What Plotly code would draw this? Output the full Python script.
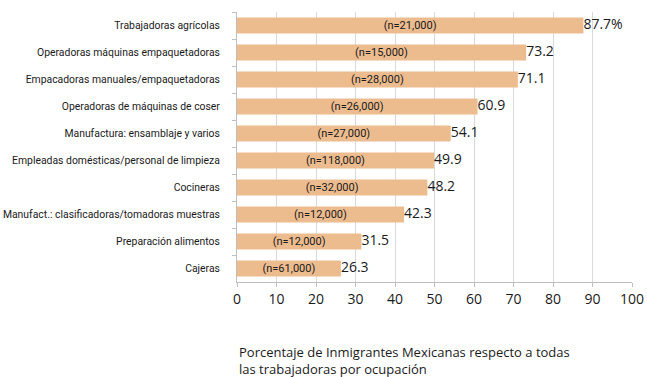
import plotly.graph_objects as go

categories = [
    "Trabajadoras agrícolas",
    "Operadoras máquinas empaquetadoras",
    "Empacadoras manuales/empaquetadoras",
    "Operadoras de máquinas de coser",
    "Manufactura: ensamblaje y varios",
    "Empleadas domésticas/personal de limpieza",
    "Cocineras",
    "Manufact.: clasificadoras/tomadoras muestras",
    "Preparación alimentos",
    "Cajeras",
]
values = [87.7, 73.2, 71.1, 60.9, 54.1, 49.9, 48.2, 42.3, 31.5, 26.3]
value_labels = ["87.7%", "73.2", "71.1", "60.9", "54.1", "49.9", "48.2", "42.3", "31.5", "26.3"]
n_labels = ["(n=21,000)", "(n=15,000)", "(n=28,000)", "(n=26,000)", "(n=27,000)",
            "(n=118,000)", "(n=32,000)", "(n=12,000)", "(n=12,000)", "(n=61,000)"]
x_ticks = [0, 10, 20, 30, 40, 50, 60, 70, 80, 90, 100]

narrow = "Roboto, Liberation Sans, sans-serif"
regular = "Open Sans, Liberation Sans, sans-serif"

fig = go.Figure()
fig.add_trace(go.Bar(
    y=categories, x=values, orientation="h",
    marker=dict(color="#ECBC8F", line=dict(width=0)),
    width=0.6,
    text=n_labels, textposition="inside", insidetextanchor="middle",
    constraintext="none",
    textfont=dict(family=narrow, size=11, color="#1a1a1a"),
    textangle=0, cliponaxis=False, hoverinfo="skip",
))
fig.add_trace(go.Scatter(
    y=categories, x=values, mode="text",
    text=value_labels, textposition="middle right",
    textfont=dict(family=regular, size=14, color="#1a1a1a"),
    cliponaxis=False, hoverinfo="skip", showlegend=False,
))

fig.update_layout(
    width=647, height=377,
    margin=dict(l=237, r=15, t=12, b=95),
    plot_bgcolor="white", paper_bgcolor="white",
    showlegend=False,
    xaxis=dict(
        range=[0, 100], tickvals=x_ticks, ticks="outside", ticklen=4,
        tickcolor="#BFBFBF", showgrid=True, gridcolor="#D9D9D9", gridwidth=1,
        showline=True, linecolor="#BFBFBF", linewidth=1, zeroline=False,
        tickfont=dict(family=regular, size=14, color="#1a1a1a"),
        automargin=False,
    ),
    yaxis=dict(
        type="category", autorange="reversed", ticks="outside", ticklen=4,
        tickson="boundaries", tickcolor="#BFBFBF",
        showline=True, linecolor="#BFBFBF", linewidth=1, showgrid=False,
        tickfont=dict(family=narrow, size=10.4, color="#1a1a1a"),
        ticklabelstandoff=14, automargin=False,
    ),
    annotations=[dict(
        x=0, y=-0.22, xref="paper", yref="paper", xanchor="left", yanchor="top",
        align="left", showarrow=False,
        text="Porcentaje de Inmigrantes Mexicanas respecto a todas<br>las trabajadoras por ocupación",
        font=dict(family=regular, size=13, color="#1a1a1a"),
    )],
)

fig.write_html("out.html")
